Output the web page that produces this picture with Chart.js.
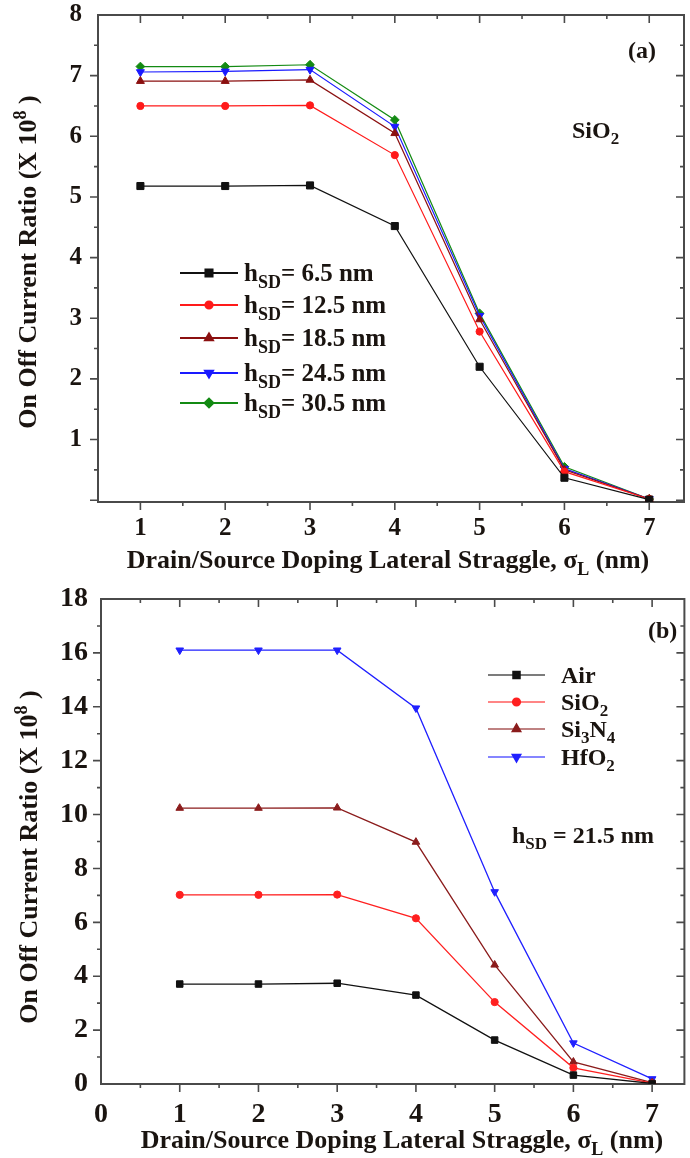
<!DOCTYPE html>
<html>
<head>
<meta charset="utf-8">
<script src="https://cdn.jsdelivr.net/npm/chart.js@4.4.1/dist/chart.umd.min.js"></script>
<style>
  html, body { margin: 0; padding: 0; background: #fff; }
  #wrap { position: relative; width: 690px; height: 1158px; }
  canvas { position: absolute; left: 0; }
  #chartA { top: 0; }
  #chartB { top: 580px; }
</style>
</head>
<body>
<div id="wrap">
  <canvas id="chartA" width="690" height="580"></canvas>
  <canvas id="chartB" width="690" height="578"></canvas>
</div>
<script>
const sigmaL = [1, 2, 3, 4, 5, 6, 7];

// (a) SiO2 spacer, different hSD
const hsdLabels = ['h_{SD}= 6.5 nm', 'h_{SD}= 12.5 nm', 'h_{SD}= 18.5 nm', 'h_{SD}= 24.5 nm', 'h_{SD}= 30.5 nm'];
const ratioHsd65  = [5.18, 5.18, 5.19, 4.52, 2.20, 0.37, 0.01];
const ratioHsd125 = [6.50, 6.50, 6.51, 5.69, 2.78, 0.47, 0.02];
const ratioHsd185 = [6.91, 6.91, 6.93, 6.05, 2.98, 0.50, 0.02];
const ratioHsd245 = [7.06, 7.07, 7.10, 6.16, 3.04, 0.52, 0.02];
const ratioHsd305 = [7.15, 7.15, 7.18, 6.27, 3.08, 0.55, 0.02];

// (b) hSD = 21.5 nm, different spacer dielectrics
const spacerLabels = ['Air', 'SiO_{2}', 'Si_{3}N_{4}', 'HfO_{2}'];
const ratioAir   = [3.71, 3.71, 3.74, 3.30, 1.63, 0.33, 0.02];
const ratioSiO2  = [7.02, 7.02, 7.03, 6.15, 3.04, 0.60, 0.03];
const ratioSi3N4 = [10.24, 10.24, 10.25, 8.98, 4.42, 0.82, 0.05];
const ratioHfO2  = [16.1, 16.1, 16.1, 13.95, 7.13, 1.52, 0.19];

const xTicksA = [1, 2, 3, 4, 5, 6, 7];
const yTicksA = [1, 2, 3, 4, 5, 6, 7, 8];
const xTicksB = [0, 1, 2, 3, 4, 5, 6, 7];
const yTicksB = [0, 2, 4, 6, 8, 10, 12, 14, 16, 18];

const yTitle = 'On Off Current Ratio (X 10^{8} )';
const xTitle = 'Drain/Source Doping Lateral Straggle, \u03c3_{L} (nm)';

const FONT = '"Liberation Serif", "Times New Roman", serif';
const INK = '#1a1410';

const stylesA = [
    { color: '#111111', pointStyle: 'rect', radius: 5, rotation: 0 },
    { color: '#ff1a1a', pointStyle: 'circle', radius: 3.6, rotation: 0 },
    { color: '#8b1010', pointStyle: 'triangle', radius: 4.6, rotation: 0 },
    { color: '#1a1aff', pointStyle: 'triangle', radius: 4.6, rotation: 180 },
    { color: '#138a13', pointStyle: 'rectRot', radius: 4.4, rotation: 0 }
];
const stylesB = [
    { color: '#111111', pointStyle: 'rect', radius: 4.6, rotation: 0 },
    { color: '#ff2020', pointStyle: 'circle', radius: 3.6, rotation: 0 },
    { color: '#8b1c1c', pointStyle: 'triangle', radius: 4.4, rotation: 0 },
    { color: '#2020ff', pointStyle: 'triangle', radius: 4.4, rotation: 180 }
];

function parseRich(s) {
    const parts = [];
    const re = /([_^])\{([^}]*)\}/g;
    let last = 0, m;
    while ((m = re.exec(s))) {
        if (m.index > last) parts.push({ t: s.slice(last, m.index), k: '' });
        parts.push({ t: m[2], k: m[1] === '_' ? 'sub' : 'sup' });
        last = re.lastIndex;
    }
    if (last < s.length) parts.push({ t: s.slice(last), k: '' });
    return parts;
}

// draws text with sub/superscripts, y is the baseline
function drawRich(ctx, s, x, y, size, align) {
    const parts = parseRich(s);
    const fontFor = k => `bold ${k ? Math.round(size * 0.7) : size}px ${FONT}`;
    let w = 0;
    parts.forEach(p => { ctx.font = fontFor(p.k); p.w = ctx.measureText(p.t).width; w += p.w; });
    let cx = align === 'center' ? x - w / 2 : x;
    ctx.textAlign = 'left';
    ctx.textBaseline = 'alphabetic';
    ctx.fillStyle = INK;
    parts.forEach(p => {
        ctx.font = fontFor(p.k);
        const dy = p.k === 'sub' ? size * 0.26 : p.k === 'sup' ? -size * 0.4 : 0;
        ctx.fillText(p.t, cx, y + dy);
        cx += p.w;
    });
}

function tickList(min, max, step) {
    const out = [];
    for (let v = Math.ceil(min / step - 1e-9) * step; v <= max + 1e-9; v += step) out.push(+v.toFixed(4));
    return out;
}

// box with outward ticks on bottom/left and inward ticks on top/right
const framePlugin = {
    id: 'frame',
    beforeDatasetsDraw(chart, args, opts) {
        const { ctx, chartArea: a } = chart;
        const xs = chart.scales.x, ys = chart.scales.y;
        ctx.save();
        ctx.strokeStyle = '#4a4a4a';
        ctx.lineWidth = 2;
        ctx.strokeRect(a.left, a.top, a.right - a.left, a.bottom - a.top);
        ctx.lineWidth = 1.6;
        ctx.beginPath();
        tickList(xs.min, xs.max, opts.xMinor).forEach(v => {
            const px = xs.getPixelForValue(v);
            if (px < a.left + 1 || px > a.right - 1) return;
            const len = Math.abs(v / opts.xMajor - Math.round(v / opts.xMajor)) < 1e-6 ? 8 : 4;
            ctx.moveTo(px, a.bottom); ctx.lineTo(px, a.bottom + len);
            ctx.moveTo(px, a.top); ctx.lineTo(px, a.top + len);
        });
        tickList(ys.min, ys.max, opts.yMinor).forEach(v => {
            const py = ys.getPixelForValue(v);
            if (py > a.bottom - 1 || py < a.top + 1) return;
            const len = Math.abs(v / opts.yMajor - Math.round(v / opts.yMajor)) < 1e-6 ? 8 : 4;
            ctx.moveTo(a.left, py); ctx.lineTo(a.left - len, py);
            ctx.moveTo(a.right, py); ctx.lineTo(a.right - len, py);
        });
        ctx.stroke();
        ctx.restore();
    },
    afterDraw(chart, args, opts) {
        const ctx = chart.ctx;
        ctx.save();
        // axis titles
        drawRich(ctx, xTitle, opts.xTitleX, opts.xTitleY, opts.titleSize, 'center');
        ctx.save();
        ctx.translate(opts.yTitleX, opts.yTitleY);
        ctx.rotate(-Math.PI / 2);
        drawRich(ctx, yTitle, 0, 0, opts.titleSize, 'center');
        ctx.restore();
        // legend
        const lg = opts.legend;
        chart.data.datasets.forEach((ds, i) => {
            const y = lg.rows[i];
            ctx.globalAlpha = lg.lineAlpha;
            ctx.strokeStyle = ds.borderColor;
            ctx.lineWidth = 2;
            ctx.beginPath();
            ctx.moveTo(lg.x0, y); ctx.lineTo(lg.x1, y);
            ctx.stroke();
            ctx.globalAlpha = 1;
            ctx.fillStyle = ds.pointBackgroundColor;
            ctx.strokeStyle = ds.pointBorderColor;
            Chart.helpers.drawPoint(ctx, {
                pointStyle: ds.pointStyle, rotation: ds.pointRotation,
                radius: ds.pointRadius, borderWidth: 1
            }, (lg.x0 + lg.x1) / 2, y);
            drawRich(ctx, ds.label, lg.textX, y + lg.size * 0.33, lg.size, 'left');
        });
        // notes
        opts.notes.forEach(n => drawRich(ctx, n.text, n.x, n.y + n.size * 0.33, n.size, 'left'));
        ctx.restore();
    }
};

function makeDatasets(series, labels, styles, lineWidth) {
    return series.map((data, i) => ({
        label: labels[i],
        data: sigmaL.map((x, j) => ({ x: x, y: data[j] })),
        borderColor: styles[i].color,
        backgroundColor: styles[i].color,
        pointBackgroundColor: styles[i].color,
        pointBorderColor: styles[i].color,
        pointStyle: styles[i].pointStyle,
        pointRotation: styles[i].rotation,
        pointRadius: styles[i].radius,
        pointBorderWidth: 1,
        borderWidth: lineWidth,
        tension: 0
    }));
}

function noPad(s) {
    s.paddingTop = 0; s.paddingBottom = 0; s.paddingLeft = 0; s.paddingRight = 0;
}

function makeChart(id, cfg) {
    return new Chart(document.getElementById(id), {
        type: 'line',
        data: { datasets: cfg.datasets },
        options: {
            responsive: false,
            animation: false,
            devicePixelRatio: 1,
            layout: { padding: { top: cfg.top, right: 2, left: 0, bottom: 0 } },
            plugins: { legend: { display: false }, tooltip: { enabled: false }, frame: cfg.frame },
            scales: {
                x: {
                    type: 'linear', min: cfg.xMin, max: cfg.xMax,
                    grid: { display: false, drawTicks: false }, border: { display: false },
                    afterBuildTicks: s => { s.ticks = cfg.xTicks.map(v => ({ value: v })); },
                    afterFit: s => { s.height = cfg.xHeight; noPad(s); },
                    ticks: {
                        autoSkip: false, maxRotation: 0, padding: cfg.xPad, color: INK,
                        font: { family: FONT, weight: 'bold', size: cfg.tickSize, lineHeight: 1 },
                        callback: v => String(v)
                    }
                },
                y: {
                    type: 'linear', min: cfg.yMin, max: cfg.yMax,
                    grid: { display: false, drawTicks: false }, border: { display: false },
                    afterBuildTicks: s => { s.ticks = cfg.yTicks.map(v => ({ value: v })); },
                    afterFit: s => { s.width = cfg.yWidth; noPad(s); },
                    ticks: {
                        autoSkip: false, padding: cfg.yPad, color: INK,
                        font: { family: FONT, weight: 'bold', size: cfg.tickSize, lineHeight: 1 },
                        callback: v => String(v)
                    }
                }
            }
        },
        plugins: [framePlugin]
    });
}

makeChart('chartA', {
    datasets: makeDatasets([ratioHsd65, ratioHsd125, ratioHsd185, ratioHsd245, ratioHsd305], hsdLabels, stylesA, 1.2),
    top: 15, xHeight: 78, yWidth: 98, xPad: 14, yPad: 16, tickSize: 25,
    xMin: 0.5, xMax: 7.41, yMin: -0.03, yMax: 8,
    xTicks: xTicksA, yTicks: yTicksA,
    frame: {
        xMajor: 1, xMinor: 0.5, yMajor: 1, yMinor: 0.5,
        titleSize: 26, xTitleX: 388, xTitleY: 568, yTitleX: 36, yTitleY: 262,
        legend: { x0: 180, x1: 238, textX: 244, size: 25, lineAlpha: 1, rows: [273, 305, 338, 373, 403] },
        notes: [
            { text: '(a)', x: 628, y: 50, size: 24 },
            { text: 'SiO_{2}', x: 572, y: 130, size: 24 }
        ]
    }
});

makeChart('chartB', {
    datasets: makeDatasets([ratioAir, ratioSiO2, ratioSi3N4, ratioHfO2], spacerLabels, stylesB, 1.3),
    top: 19, xHeight: 74, yWidth: 101, xPad: 17, yPad: 13, tickSize: 28,
    xMin: 0, xMax: 7.41, yMin: 0, yMax: 18,
    xTicks: xTicksB, yTicks: yTicksB,
    frame: {
        xMajor: 1, xMinor: 0.5, yMajor: 2, yMinor: 1,
        titleSize: 26, xTitleX: 402, xTitleY: 568, yTitleX: 37, yTitleY: 277,
        legend: { x0: 488, x1: 545, textX: 561, size: 24, lineAlpha: 0.55, rows: [95, 122, 149, 177] },
        notes: [
            { text: '(b)', x: 648, y: 50, size: 24 },
            { text: 'h_{SD} = 21.5 nm', x: 512, y: 255, size: 24 }
        ]
    }
});
</script>
</body>
</html>
